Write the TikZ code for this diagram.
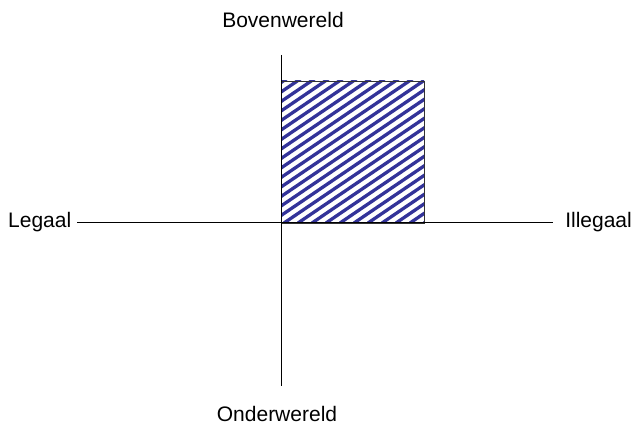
\documentclass[tikz,border=0pt]{standalone}
\usepackage{fontspec}
\setmainfont{Liberation Sans}
\definecolor{hatchblue}{RGB}{51,51,153}
\begin{document}
\begin{tikzpicture}[x=1pt,y=-1pt,
  lbl/.style={inner sep=0pt, font=\fontsize{21}{25}\selectfont},
  axisline/.style={line width=1pt, black},
  hatchline/.style={hatchblue, line width=3.3pt},
  boxline/.style={line width=0.9pt, black!80}]
\useasboundingbox (0,0) rectangle (636,427);
% labels
\node[lbl, anchor=base west] (leg) at (8,228) {Legaal};
\node[lbl, anchor=base east] (ill) at (632,228) {Illegaal};
\node[lbl, anchor=base] (bov) at (283,28) {Bovenwereld};
\node[lbl, anchor=base] (ond) at (277,421) {Onderwereld};
% axis end points
\coordinate (hl) at (77,223);
\coordinate (hr) at (553,223);
\coordinate (vt) at (281,55);
\coordinate (vb) at (281,386);
% hatched square
\coordinate (sq1) at (281,81);
\coordinate (sq2) at (424,223);
\begin{scope}
  \clip (sq1) rectangle (sq2);
  \foreach \k in {0,...,26} {
    \draw[hatchline] (74+\k*14,223) -- ++(280,-190);
  }
\end{scope}
\draw[boxline] (sq1) rectangle (sq2);
% axes
\draw[axisline] (hl) -- (hr);
\draw[axisline] (vt) -- (vb);
\end{tikzpicture}
\end{document}
